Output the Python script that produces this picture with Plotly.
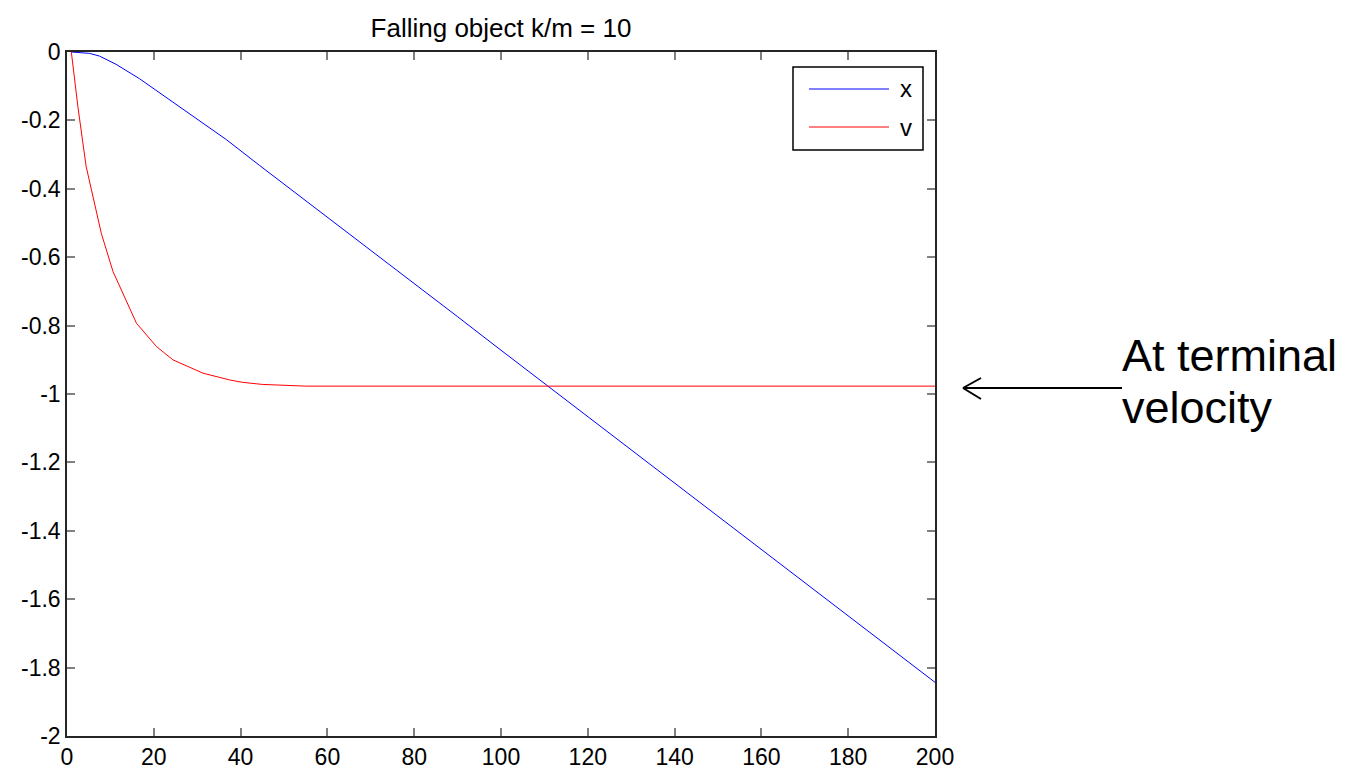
import plotly.graph_objects as go

# ---------------- data ----------------
t_x = [1, 5.2, 7.5, 11.3, 16.7, 21.3, 29, 36.7, 44.4, 50, 60, 70, 80, 90, 100,
       110, 120, 130, 140, 150, 160, 170, 180, 190, 200]
x_vals = [0, -0.004, -0.012, -0.036, -0.078, -0.119, -0.188, -0.256, -0.332, -0.386,
          -0.483, -0.580, -0.677, -0.774, -0.872, -0.969, -1.066, -1.163, -1.260,
          -1.357, -1.455, -1.552, -1.649, -1.746, -1.843]

t_v = [1, 2.5, 4.4, 6, 7.9, 10.6, 12.9, 16, 20.6, 24.4, 31.3, 37.5, 40.5, 45, 55, 200]
v_vals = [0, -0.159, -0.334, -0.420, -0.530, -0.642, -0.705, -0.793, -0.861, -0.900,
          -0.939, -0.959, -0.966, -0.972, -0.977, -0.977]

x_ticks = [0, 20, 40, 60, 80, 100, 120, 140, 160, 180, 200]
x_ticktext = ["0", "20", "40", "60", "80", "100", "120", "140", "160", "180", "200"]
y_ticks = [0, -0.2, -0.4, -0.6, -0.8, -1, -1.2, -1.4, -1.6, -1.8, -2]
y_ticktext = ["0", "-0.2", "-0.4", "-0.6", "-0.8", "-1", "-1.2", "-1.4", "-1.6", "-1.8", "-2"]

series_names = ["x", "v"]
series_colors = ["#0000ff", "#ff0000"]
title_text = "Falling object k/m = 10"
note_lines = ["At terminal", "velocity"]

# ---------------- layout geometry ----------------
W, H = 1369, 769
L, R, T, B = 67, 434, 52, 33
PW, PH = W - L - R, H - T - B
FONT = "Liberation Sans, Arial, sans-serif"


def px(xp):
    return (xp - L) / PW


def py(yp):
    return (T + PH - yp) / PH


fig = go.Figure()
fig.add_trace(go.Scatter(x=t_x, y=x_vals, mode="lines", name=series_names[0],
                         line=dict(color=series_colors[0], width=1), showlegend=False))
fig.add_trace(go.Scatter(x=t_v, y=v_vals, mode="lines", name=series_names[1],
                         line=dict(color=series_colors[1], width=1), showlegend=False))

axis_common = dict(showline=True, linecolor="#262626", linewidth=1.5, mirror="ticks",
                   ticks="inside", ticklen=8, tickwidth=1.5, tickcolor="#808080",
                   showgrid=False, zeroline=False, automargin=False,
                   tickfont=dict(family=FONT, size=23, color="#000000"))

fig.update_xaxes(range=[0, 200], tickvals=x_ticks, ticktext=x_ticktext, **axis_common)
fig.update_yaxes(range=[-2, 0], tickvals=y_ticks, ticktext=y_ticktext, **axis_common)

shapes = []
annotations = []

# legend box (manual, to mimic MATLAB legend)
shapes.append(dict(type="rect", xref="paper", yref="paper",
                   x0=px(793), x1=px(923), y0=py(150), y1=py(67),
                   line=dict(color="#000000", width=1.5), fillcolor="#ffffff", layer="above"))
for i, (nm, col) in enumerate(zip(series_names, series_colors)):
    yy = [89, 127][i]
    shapes.append(dict(type="line", xref="paper", yref="paper",
                       x0=px(809), x1=px(889), y0=py(yy), y1=py(yy),
                       line=dict(color=col, width=1), layer="above"))
    annotations.append(dict(text=nm, xref="paper", yref="paper", x=px(898), y=py(yy),
                            xanchor="left", yanchor="middle", showarrow=False,
                            font=dict(family=FONT, size=24, color="#000000")))

# arrow pointing at terminal velocity
shapes.append(dict(type="line", xref="paper", yref="paper",
                   x0=px(963), x1=px(1122), y0=py(388), y1=py(388),
                   line=dict(color="#000000", width=2)))
shapes.append(dict(type="line", xref="paper", yref="paper",
                   x0=px(963), x1=px(981), y0=py(388), y1=py(378),
                   line=dict(color="#000000", width=2)))
shapes.append(dict(type="line", xref="paper", yref="paper",
                   x0=px(963), x1=px(981), y0=py(388), y1=py(399),
                   line=dict(color="#000000", width=2)))

annotations.append(dict(text=note_lines[0], xref="paper", yref="paper", x=px(1122), y=py(355),
                        xanchor="left", yanchor="middle", showarrow=False,
                        borderpad=0, borderwidth=0,
                        font=dict(family=FONT, size=45, color="#000000")))
annotations.append(dict(text=note_lines[1], xref="paper", yref="paper", x=px(1122), y=py(407),
                        xanchor="left", yanchor="middle", showarrow=False,
                        borderpad=0, borderwidth=0,
                        font=dict(family=FONT, size=45, color="#000000")))

fig.update_layout(
    width=W, height=H,
    margin=dict(l=L, r=R, t=T, b=B, pad=0),
    paper_bgcolor="#ffffff", plot_bgcolor="#ffffff",
    title=dict(text=title_text, xref="paper", x=0.5, xanchor="center",
               yref="container", y=1 - 28 / H, yanchor="middle",
               font=dict(family=FONT, size=26, color="#000000")),
    shapes=shapes, annotations=annotations, showlegend=False,
)

fig.write_html("out.html")
